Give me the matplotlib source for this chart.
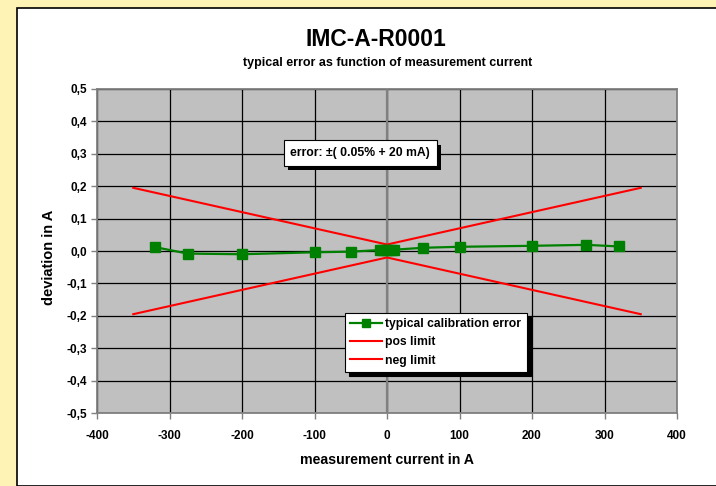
import matplotlib
matplotlib.use("Agg")
import matplotlib.pyplot as plt
import matplotlib.patheffects as pe
from matplotlib.patches import Rectangle
from matplotlib.ticker import FuncFormatter, MultipleLocator

plt.rcParams['font.family'] = ['Liberation Sans', 'DejaVu Sans']
plt.rcParams['font.weight'] = 'bold'
plt.rcParams['axes.unicode_minus'] = False

# measured data
current = [-320, -275, -200, -100, -50, -10, -5, 0, 5, 10, 50, 100, 200, 275, 320]
deviation = [0.012, -0.008, -0.010, -0.004, -0.002, 0.003, 0.004, 0.004, 0.004, 0.004,
             0.010, 0.013, 0.016, 0.019, 0.014]

# limit lines: +-(0.05% + 20 mA)
limit_x = [-350, 0, 350]
pos_limit = [0.195, 0.02, 0.195]
neg_limit = [-0.195, -0.02, -0.195]

fig = plt.figure(figsize=(7.16, 4.86), dpi=100)
fig.patch.set_facecolor('#FFF2B5')

# white chart area with black frame on top/left
fig.patches.append(Rectangle((17 / 716, 0), 1, 1 - 8 / 486, transform=fig.transFigure,
                             facecolor='white', edgecolor='black', linewidth=1.2, zorder=-1))

ax = fig.add_axes([97 / 716, 73 / 486, 580 / 716, 324 / 486])
ax.set_zorder(1)
ax.set_facecolor('#C0C0C0')

ax.plot(current, deviation, color='#008000', marker='s', markersize=6.5, linewidth=1.6,
        label='typical calibration error', zorder=4)
ax.plot(limit_x, pos_limit, color='#FF0000', linewidth=1.5, label='pos limit', zorder=3)
ax.plot(limit_x, neg_limit, color='#FF0000', linewidth=1.5, label='neg limit', zorder=3)

ax.set_xlim(-400, 400)
ax.set_ylim(-0.5, 0.5)
ax.xaxis.set_major_locator(MultipleLocator(100))
ax.yaxis.set_major_locator(MultipleLocator(0.1))
ax.yaxis.set_major_formatter(FuncFormatter(lambda v, p: f"{v:.1f}".replace('.', ',').replace('-0,0', '0,0')))
ax.grid(True, color='black', linewidth=0.9)
ax.set_axisbelow(True)
ax.axvline(0, color='#808080', linewidth=1.6, zorder=1.5)
for s in ax.spines.values():
    s.set_color('#808080')
    s.set_linewidth(1.3)
ax.tick_params(axis='both', direction='out', length=4, width=1, color='#808080',
               labelsize=8.5, pad=3)
ax.tick_params(axis='x', pad=8)
for lbl in ax.get_xticklabels() + ax.get_yticklabels():
    lbl.set_fontweight('bold')

ax.set_xlabel('measurement current in A', fontsize=10.2, fontweight='bold', labelpad=8)
ax.set_ylabel('deviation in A', fontsize=10.5, fontweight='bold', labelpad=8, y=0.48)

fig.text(376 / 716, 1 - 39 / 486, 'IMC-A-R0001', ha='center', va='center',
         fontsize=16.5, fontweight='bold')
fig.text(388 / 716, 1 - 63 / 486, 'typical error as function of measurement current',
         ha='center', va='center', fontsize=9, fontweight='bold')

# annotation box with shadow
note = ax.text(-37, 0.302, 'error: \u00b1( 0.05% + 20 mA)', ha='center', va='center',
               fontsize=8.8, fontweight='bold', zorder=6,
               bbox=dict(boxstyle='square,pad=0.55', facecolor='white', edgecolor='black',
                         linewidth=0.8))
note.get_bbox_patch().set_path_effects(
    [pe.SimplePatchShadow(offset=(3, -3), shadow_rgbFace='black', alpha=1), pe.Normal()])

leg = ax.legend(loc='upper left', bbox_to_anchor=(345 / 716, 1 - 313 / 486),
                bbox_transform=fig.transFigure, fancybox=False, framealpha=1,
                edgecolor='black', prop={'size': 8.7, 'weight': 'bold'},
                handlelength=2.6, handletextpad=0.3, labelspacing=0.5,
                borderpad=0.45, borderaxespad=0, markerscale=0.85,
                shadow={'color': 'black', 'alpha': 1, 'ox': 3, 'oy': -3})
leg.get_frame().set_linewidth(0.8)
leg.set_zorder(7)

fig.savefig('out.png', dpi=100, facecolor=fig.get_facecolor())
